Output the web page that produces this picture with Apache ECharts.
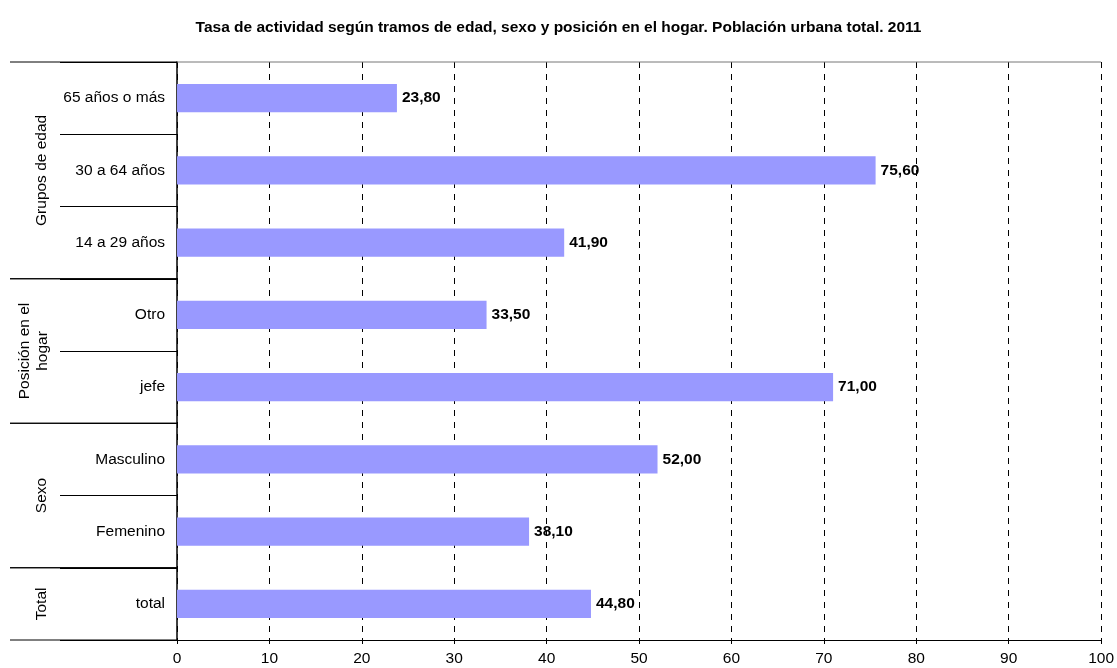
<!DOCTYPE html>
<html>
<head>
<meta charset="utf-8">
<script src="https://cdn.jsdelivr.net/npm/echarts@6/dist/echarts.min.js"></script>
<style>
html,body{margin:0;padding:0;background:#fff;}
#chart{width:1117px;height:668px;}
</style>
</head>
<body>
<div id="chart"></div>
<script>
// Categories listed bottom -> top
var categories = ['total', 'Femenino', 'Masculino', 'jefe', 'Otro', '14 a 29 años', '30 a 64 años', '65 años o más'];
var values = [44.8, 38.1, 52.0, 71.0, 33.5, 41.9, 75.6, 23.8];
// Groups: [label, first category index, last category index]
var groupNames = ['Total', 'Sexo', 'Posición en el\nhogar', 'Grupos de edad'];
var groupStart = [0, 1, 3, 5];
var groupEnd = [0, 2, 4, 7];
var xTicks = [0, 10, 20, 30, 40, 50, 60, 70, 80, 90, 100];

var FONT = '"Liberation Sans", Arial, sans-serif';
var FS = 15.5;
var chart = echarts.init(document.getElementById('chart'));

var groupData = groupNames.map(function (n, i) { return [groupStart[i], groupEnd[i], n]; });

chart.setOption({
  animation: false,
  title: {
    text: 'Tasa de actividad según tramos de edad, sexo y posición en el hogar. Población urbana total. 2011',
    left: 'center', top: 15,
    textStyle: { fontFamily: FONT, fontSize: 15.5, fontWeight: 'bold', color: '#000' }
  },
  grid: { left: 177, right: 14, top: 62, bottom: 28, containLabel: false },
  xAxis: {
    type: 'value', min: xTicks[0], max: xTicks[xTicks.length - 1], interval: 10,
    axisLine: { show: true, lineStyle: { color: '#000', width: 1 } },
    axisTick: { show: true, length: 4, lineStyle: { color: '#000' } },
    axisLabel: { fontFamily: FONT, fontSize: FS, color: '#000', margin: 11 },
    splitLine: { show: true, lineStyle: { color: '#000', type: [6, 6], width: 1 } }
  },
  yAxis: {
    type: 'category', data: categories,
    axisLine: { show: true, lineStyle: { color: '#000', width: 1.5 } },
    axisTick: { show: true, length: 117, alignWithLabel: false, lineStyle: { color: '#000' } },
    axisLabel: { fontFamily: FONT, fontSize: FS, color: '#000', margin: 12 }
  },
  series: [
    {
      type: 'bar', data: values, barWidth: '39%',
      itemStyle: { color: '#9999ff' },
      label: {
        show: true, position: 'right', distance: 5,
        fontFamily: FONT, fontSize: FS, fontWeight: 'bold', color: '#000',
        formatter: function (p) { return p.value.toFixed(2).replace('.', ','); }
      }
    },
    {
      type: 'custom', silent: true, clip: false,
      data: groupData,
      renderItem: function (params, api) {
        var s = api.value(0), e = api.value(1);
        var name = groupNames[params.dataIndex];
        var size = api.size([0, 1]);
        var band = size[1];
        var pBot = api.coord([0, s]);
        var pTop = api.coord([0, e]);
        var yBot = pBot[1] + band / 2;
        var yTop = pTop[1] - band / 2;
        var x0 = pBot[0];
        var xLeft = 10;
        var children = [
          { type: 'line', shape: { x1: xLeft, y1: yBot, x2: x0, y2: yBot }, style: { stroke: '#000', lineWidth: 1 } },
          { type: 'line', shape: { x1: xLeft, y1: yTop, x2: x0, y2: yTop }, style: { stroke: '#000', lineWidth: 1 } },
          {
            type: 'text', x: name.indexOf('\n') >= 0 ? 34 : 42, y: (yBot + yTop) / 2, rotation: Math.PI / 2,
            style: { text: name, fontFamily: FONT, fontSize: FS, fill: '#000', align: 'center', verticalAlign: 'middle', lineHeight: 18 }
          }
        ];
        if (params.dataIndex === groupNames.length - 1) {
          var pEnd = api.coord([xTicks[xTicks.length - 1], e]);
          children.push({ type: 'line', shape: { x1: x0, y1: yTop, x2: pEnd[0], y2: yTop }, style: { stroke: '#777', lineWidth: 1 } });
        }
        return { type: 'group', children: children };
      },
      encode: { x: -1, y: 0 }
    }
  ]
});
</script>
</body>
</html>
